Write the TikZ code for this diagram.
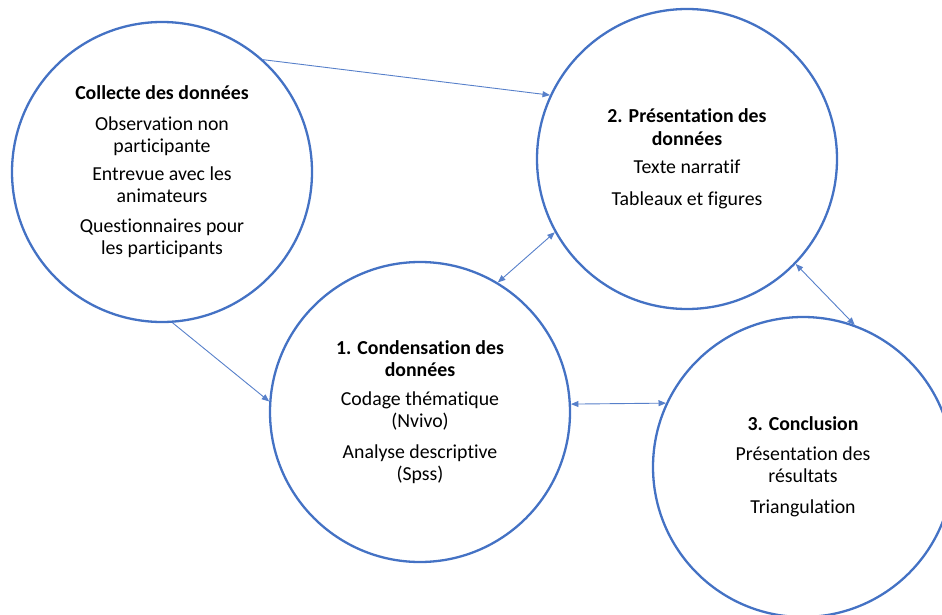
\documentclass[tikz,border=0pt]{standalone}
\usepackage{fontspec}
\setmainfont{Carlito}[Ligatures=NoCommon]
\usetikzlibrary{arrows.meta}

\definecolor{stageblue}{HTML}{4472C4}

\begin{document}
\begin{tikzpicture}[x=1pt,y=-1pt,
  >={Triangle[length=7.5pt,width=6pt]},
  stage/.style={circle,draw=stageblue,line width=2.3pt,minimum size=300pt,
    inner sep=0pt,align=center,font=\fontsize{19.8}{22.5}\selectfont},
  link/.style={draw=stageblue!90,line width=0.9pt}]

% Page frame
\useasboundingbox (0,0) rectangle (942,615);
\clip (0,0) rectangle (942,615);

% Stages
\node[stage] (collecte) at (162,172) {\textbf{Collecte des données}\\[8pt]
  Observation non\\participante\\[5pt]
  Entrevue avec les\\animateurs\\[7pt]
  Questionnaires pour\\les participants};

\node[stage] (presentation) at (687,159) {\textbf{2. Présentation des}\\\textbf{données}\\[6pt]
  Texte narratif\\[9pt]
  Tableaux et figures};

\node[stage] (condensation) at (420,412) {\textbf{1. Condensation des}\\\textbf{données}\\[6pt]
  Codage thématique\\(Nvivo)\\[8pt]
  Analyse descriptive\\(Spss)};

\node[stage] (conclusion) at (803,467) {\textbf{3. Conclusion}\\[7pt]
  Présentation des\\résultats\\[8pt]
  Triangulation};

% Links
\draw[link,->] (collecte.48) -- (presentation.155);
\draw[link,->] (collecte.274) -- (condensation.176);
\draw[link,<->] (condensation.59) -- (presentation.209);
\draw[link,<->] (condensation.3) -- (conclusion.155);
\draw[link,<->] (presentation.316) -- (conclusion.70);

\end{tikzpicture}
\end{document}
